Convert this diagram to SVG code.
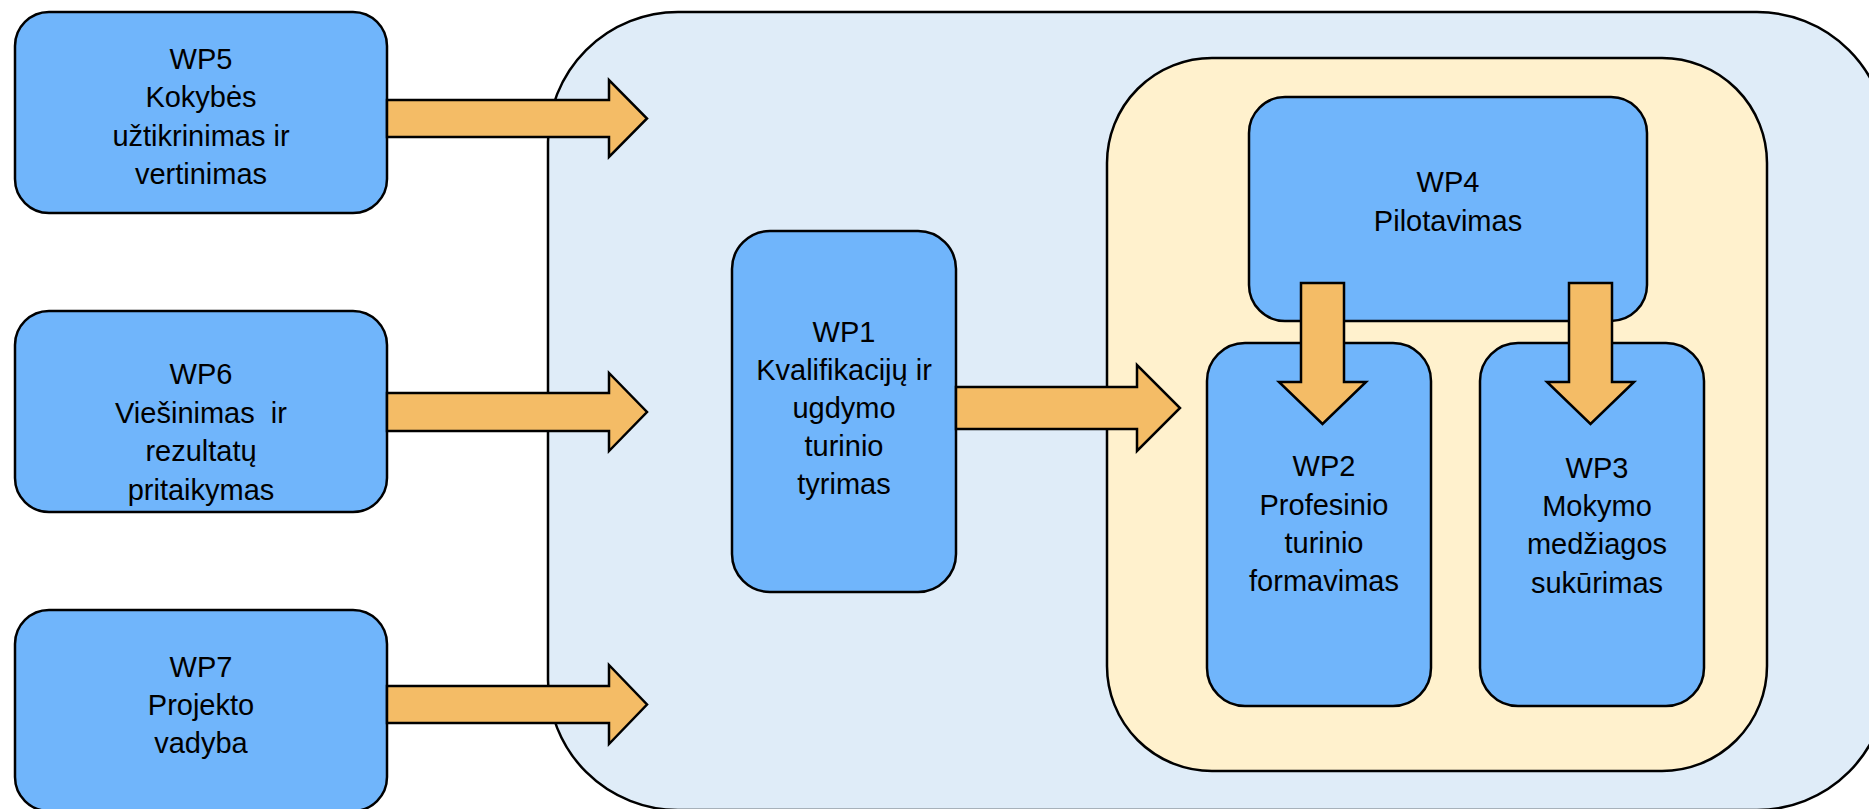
<svg xmlns="http://www.w3.org/2000/svg" width="1869" height="809" viewBox="0 0 1869 809">
<style>
.node{fill:#70B5FB;stroke:#000;stroke-width:2.5}
.outer{fill:#DFECF8;stroke:#000;stroke-width:2.5}
.inner{fill:#FFF1CD;stroke:#000;stroke-width:2.5}
.arrow{fill:#F4BC66;stroke:#000;stroke-width:2.5;stroke-linejoin:miter}
text{font-family:"Liberation Sans",Arial,sans-serif;font-size:29px;fill:#000;text-anchor:middle}
</style>
<rect width="1869" height="809" fill="#fff"/>
<g id="outer-container"><rect class="outer" x="548" y="12" width="1339" height="798" rx="130" ry="130"/></g>
<g id="inner-container"><rect class="inner" x="1107" y="58" width="660" height="713" rx="105" ry="105"/></g>
<g id="wp5"><rect class="node" x="15" y="12" width="372" height="201" rx="34" ry="34"/>
<text x="201" y="69">WP5</text><text x="201" y="107">Kokybės</text><text x="201" y="145.5">užtikrinimas ir</text><text x="201" y="184">vertinimas</text></g>
<g id="wp6"><rect class="node" x="15" y="311" width="372" height="201" rx="34" ry="34"/>
<text x="201" y="384">WP6</text><text x="201" y="422.5" xml:space="preserve">Viešinimas  ir</text><text x="201" y="461">rezultatų</text><text x="201" y="499.5">pritaikymas</text></g>
<g id="wp7"><rect class="node" x="15" y="610" width="372" height="201" rx="34" ry="34"/>
<text x="201" y="677">WP7</text><text x="201" y="715">Projekto</text><text x="201" y="753">vadyba</text></g>
<g id="wp1"><rect class="node" x="732" y="231" width="224" height="361" rx="38" ry="38"/>
<text x="844" y="342">WP1</text><text x="844" y="380">Kvalifikacijų ir</text><text x="844" y="418">ugdymo</text><text x="844" y="456">turinio</text><text x="844" y="494">tyrimas</text></g>
<g id="wp4"><rect class="node" x="1249" y="97" width="398" height="224" rx="36" ry="36"/>
<text x="1448" y="192">WP4</text><text x="1448" y="231">Pilotavimas</text></g>
<g id="wp2"><rect class="node" x="1207" y="343" width="224" height="363" rx="38" ry="38"/>
<text x="1324" y="476">WP2</text><text x="1324" y="515">Profesinio</text><text x="1324" y="553">turinio</text><text x="1324" y="591">formavimas</text></g>
<g id="wp3"><rect class="node" x="1480" y="343" width="224" height="363" rx="38" ry="38"/>
<text x="1597" y="478">WP3</text><text x="1597" y="516">Mokymo</text><text x="1597" y="554">medžiagos</text><text x="1597" y="593">sukūrimas</text></g>
<g id="connectors">
<path class="arrow" d="M387,100 H609 V80 L647,118.5 L609,157 V137 H387 Z"/>
<path class="arrow" d="M387,393 H609 V373 L647,412 L609,451 V431 H387 Z"/>
<path class="arrow" d="M387,686 H609 V665 L647,704.5 L609,744 V723 H387 Z"/>
<path class="arrow" d="M956,387 H1137 V365 L1180,408 L1137,451 V429 H956 Z"/>
<path class="arrow" d="M1301,283 V382 H1279 L1322.5,424 L1366,382 H1344 V283 Z"/>
<path class="arrow" d="M1569,283 V382 H1547 L1590.5,424 L1634,382 H1612 V283 Z"/>
</g>
</svg>
